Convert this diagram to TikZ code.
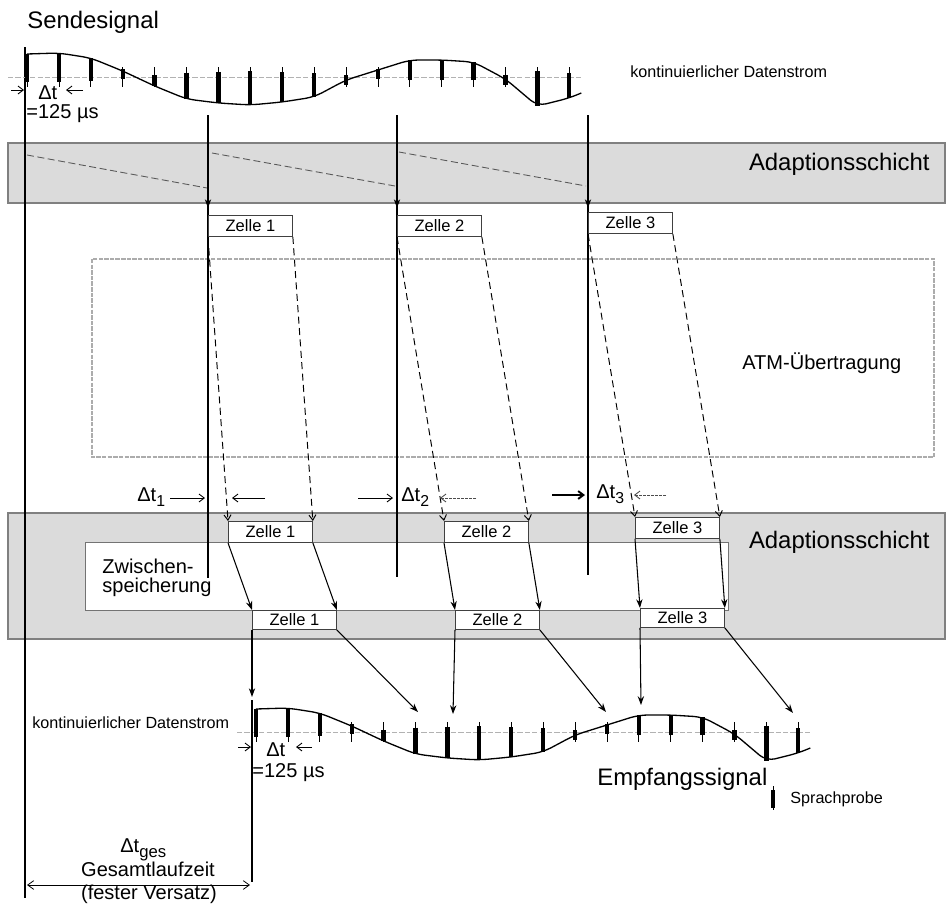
\documentclass[tikz,border=0pt]{standalone}
\usepackage{fontspec}
\setmainfont{Liberation Sans}
\usetikzlibrary{arrows.meta}

\definecolor{bandgray}{gray}{0.86}
\definecolor{rimgray}{gray}{0.5}

% sampled speech signal: #1 = x of the first sample, #2 = y of the zero line
\newcommand{\speechsignal}[2]{%
  \draw[gray!60, line width=0.5pt, dash pattern=on 3pt off 1.2pt]
    ({#1-19},#2) -- ({#1+31.9*17+12},#2);
  \foreach \v [count=\k from 0] in {-23,-24,-19,-6,9,22,26,28,25,20,3,-7,-17,-17,-15,2,29,21}{%
    \pgfmathsetmacro{\sx}{#1+31.9*\k}%
    \pgfmathsetmacro{\vb}{abs(\v)<8 ? (\v<0 ? -8 : 8) : \v}%
    \draw[line width=0.45pt] (\sx,{#2-10}) -- (\sx,{#2+10});
    \draw[line width=2.5pt] (\sx,{#2-0.2*\vb}) -- (\sx,{#2+\vb});
  }
  \draw[line width=0.75pt, rounded corners=5pt] (#1,{#2-23})
    \foreach \v [count=\k from 1] in {-24,-19,-6,9,22,26,28,25,20,3,-7,-17,-17,-15,2,29,21}
      { -- ({#1+31.9*\k},{#2+\v}) }
    -- ({#1+31.9*17+12},{#2+16});
}

\begin{document}
\begin{tikzpicture}[x=0.02cm, y=-0.02cm,
  lbl/.style={inner sep=0pt, font=\fontsize{11.4}{13}\selectfont},
  biglbl/.style={inner sep=0pt, font=\fontsize{13.6}{15}\selectfont},
  smalllbl/.style={inner sep=0pt, font=\fontsize{9.2}{10}\selectfont},
  cellbox/.style={draw=black!75, line width=0.5pt, fill=white, inner sep=0pt,
    minimum width=1.68cm, minimum height=0.42cm, anchor=north west,
    font=\fontsize{9.4}{10}\selectfont},
  lowcell/.style={cellbox, minimum height=0.38cm},
  band/.style={draw=rimgray, line width=0.6pt, fill=bandgray},
  refline/.style={line width=0.6pt},
  cellflow/.style={line width=0.55pt, dash pattern=on 4pt off 2.5pt,
    -{Straight Barb[length=3pt,width=4pt]}},
  flow/.style={line width=0.6pt, -{Stealth[length=5pt,width=3.6pt]}},
  dim/.style={line width=0.5pt, -{Straight Barb[length=3pt,width=4.5pt]}},
  dimdot/.style={dim, dash pattern=on 1.5pt off 0.8pt, black!70},
]
\useasboundingbox (0,0) rectangle (948,907);

% layers: adaptation bands, buffer, ATM transfer frame
\draw[band] (8,143) rectangle (945,203);
\draw[band] (8,513) rectangle (945,639);
\draw[draw=black!55, line width=0.5pt, fill=white] (85,542) rectangle (728,610);
\draw[gray!65, line width=0.7pt, dash pattern=on 2.5pt off 0.7pt] (92,259) rectangle (934,457);

\node[biglbl, anchor=base east] (adtop) at (930,170) {Adaptionsschicht};
\node[biglbl, anchor=base east] (adbot) at (930,548) {Adaptionsschicht};
\node[lbl, anchor=base west] (atm) at (742,369) {ATM-Übertragung};
\node[lbl, anchor=base west] (buf1) at (102,573) {Zwischen-};
\node[lbl, anchor=base west] (buf2) at (102,592) {speicherung};

% packetising ramps inside the sending adaptation layer
\draw[black!65, line width=0.5pt, dash pattern=on 4pt off 2pt] (27,155) -- (207,188);
\draw[black!65, line width=0.5pt, dash pattern=on 4pt off 2pt] (212,153) -- (395,186);
\draw[black!65, line width=0.5pt, dash pattern=on 4pt off 2pt] (399,152) -- (586,186);

% time axis of the sender
\draw[line width=1pt] (25,47) -- (25,898);

% sending and receiving signals
\node[biglbl, anchor=base west] (send) at (27,28) {Sendesignal};
\speechsignal{27}{77}
\node[smalllbl, anchor=base west] (ks) at (630,77) {kontinuierlicher Datenstrom};

\speechsignal{256}{732}
\node[smalllbl, anchor=base west] (kr) at (32,728) {kontinuierlicher Datenstrom};
\node[biglbl, anchor=base west] (recv) at (597,785) {Empfangssignal};

% sample spacing marks
\coordinate (dl1) at (11,90);  \coordinate (dl2) at (24,90);
\coordinate (dr1) at (83,90);  \coordinate (dr2) at (66,90);
\draw[dim] (dl1) -- (dl2);
\draw[dim] (dr1) -- (dr2);
\node[lbl, anchor=base west] (dt0) at (38,99) {Δt};
\node[lbl, anchor=base west] (us0) at (26,118) {=125 µs};

\coordinate (el1) at (238,747); \coordinate (el2) at (251,747);
\coordinate (er1) at (312,747); \coordinate (er2) at (296,747);
\draw[dim] (el1) -- (el2);
\draw[dim] (er1) -- (er2);
\node[lbl, anchor=base west] (dtr) at (266,756) {Δt};
\node[lbl, anchor=base west] (usr) at (252,777) {=125 µs};

% send instants of the three cells
\coordinate (s1) at (208,115); \coordinate (a1) at (208,208); \coordinate (e1) at (208,578);
\coordinate (s2) at (397,115); \coordinate (a2) at (397,208); \coordinate (e2) at (397,577);
\coordinate (s3) at (588,115); \coordinate (a3) at (588,208); \coordinate (e3) at (588,575);
\foreach \i in {1,2,3}{
  \draw[refline] (s\i) -- (e\i);
  \draw[flow] (s\i) -- (a\i);
}

% cells: sent, received, read out of the buffer
\node[cellbox] (T1) at (208,215) {Zelle 1};
\node[cellbox] (T2) at (397,215) {Zelle 2};
\node[cellbox] (T3) at (588,212) {Zelle 3};

\node[cellbox] (M1) at (228,521) {Zelle 1};
\node[cellbox] (M2) at (444,521) {Zelle 2};
\node[cellbox] (M3) at (635,517) {Zelle 3};

\node[lowcell] (L1) at (252,610) {Zelle 1};
\node[lowcell] (L2) at (455,610) {Zelle 2};
\node[lowcell] (L3) at (640,608) {Zelle 3};

% transfer through the ATM network
\foreach \i in {1,2,3}{
  \draw[cellflow] (T\i.south west) -- (M\i.north west);
  \draw[cellflow] (T\i.south east) -- (M\i.north east);
  \draw[flow] (M\i.south west) -- (L\i.north west);
  \draw[flow] (M\i.south east) -- (L\i.north east);
}

% delay variations
\coordinate (p1a) at (170,498); \coordinate (p1b) at (205,498);
\coordinate (q1a) at (265,498); \coordinate (q1b) at (232,498);
\coordinate (p2a) at (358,498); \coordinate (p2b) at (393,498);
\coordinate (q2a) at (476,498); \coordinate (q2b) at (440,498);
\coordinate (p3a) at (552,495); \coordinate (p3b) at (585,495);
\coordinate (q3a) at (666,495); \coordinate (q3b) at (634,495);
\draw[dim] (p1a) -- (p1b);
\draw[dim] (q1a) -- (q1b);
\draw[dim] (p2a) -- (p2b);
\draw[dimdot] (q2a) -- (q2b);
\draw[dim, line width=1.1pt] (p3a) -- (p3b);
\draw[dimdot] (q3a) -- (q3b);
\node[lbl, anchor=base west] (d1) at (137,501) {Δt\raisebox{-0.5ex}{\fontsize{9}{9}\selectfont 1}};
\node[lbl, anchor=base west] (d2) at (401,501) {Δt\raisebox{-0.5ex}{\fontsize{9}{9}\selectfont 2}};
\node[lbl, anchor=base west] (d3) at (596,498) {Δt\raisebox{-0.5ex}{\fontsize{9}{9}\selectfont 3}};

% play-out to the receiving signal
\coordinate (rtop) at (252,700); \coordinate (rbot) at (252,882);
\draw[line width=1.1pt] (rtop) -- (rbot);
\coordinate (r0) at (252,697);
\coordinate (r1) at (418,712);
\coordinate (r2) at (453,714);
\coordinate (r3) at (606,712);
\coordinate (r4) at (641,705);
\coordinate (r5) at (793,713);
\draw[flow] (L1.south west) -- (r0);
\draw[flow] (L1.south east) -- (r1);
\draw[flow] (L2.south west) -- (r2);
\draw[flow] (L2.south east) -- (r3);
\draw[flow] (L3.south west) -- (r4);
\draw[flow] (L3.south east) -- (r5);

% total delay
\coordinate (g1) at (27,885); \coordinate (g2) at (250,885);
\draw[line width=0.45pt, {Straight Barb[length=3.5pt,width=5pt]}-{Straight Barb[length=3.5pt,width=5pt]}] (g1) -- (g2);
\node[lbl, anchor=base west] (dtg) at (120,852) {Δt\raisebox{-0.55ex}{\fontsize{9.5}{9.5}\selectfont ges}};
\node[lbl, anchor=base] (gz) at (148,876) {Gesamtlaufzeit};
\node[lbl, anchor=base] (fv) at (149,899) {(fester Versatz)};

% legend
\draw[line width=0.45pt] (773,786) -- (773,810);
\draw[line width=2.6pt] (773,790) -- (773,808);
\node[smalllbl, anchor=base west] (leg) at (790,803) {Sprachprobe};
\end{tikzpicture}
\end{document}
